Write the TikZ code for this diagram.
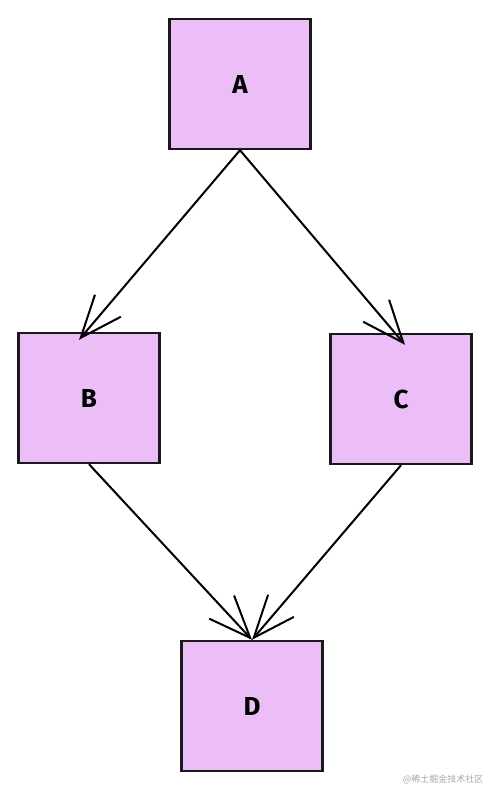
\documentclass[tikz,border=0pt]{standalone}
\usepackage{fontspec}
\setmainfont{Fira Sans}
\newfontfamily\cjk{Noto Sans CJK SC}
\usepackage{xcolor}
\usetikzlibrary{arrows.meta, positioning}
\definecolor{boxfill}{HTML}{EBBEF8}

\begin{document}
\begin{tikzpicture}[
    x=1pt, y=-1pt,
    box/.style={draw=black!90, line width=2.4pt, fill=boxfill, minimum width=141pt,
                minimum height=130pt, font=\bfseries\fontsize{26}{28}\selectfont, align=center},
    arrow/.style={-{Straight Barb[length=42pt, width=34pt, line width=2pt]}, line width=2pt}
  ]
    \useasboundingbox (0,0) rectangle (492,791);

    \node[box] (a) at (240,84)  {A};
    \node[box] (b) at (89,398)  {B};
    \node[box] (c) at (401,399) {C};
    \node[box] (d) at (252,706) {D};

    \draw[arrow] (a.south) -- ([xshift=-10pt, yshift=-8pt]b.north);
    \draw[arrow] (a.south) -- ([xshift=4pt, yshift=-12pt]c.north);
    \draw[arrow] (b.south) -- (d.north);
    \draw[arrow] (c.south) -- (d.north);

    \node[font=\cjk\fontsize{9}{10}\selectfont, text=gray!70] (mark) at (443,779)
          {@稀土掘金技术社区};
  \end{tikzpicture}
\end{document}
